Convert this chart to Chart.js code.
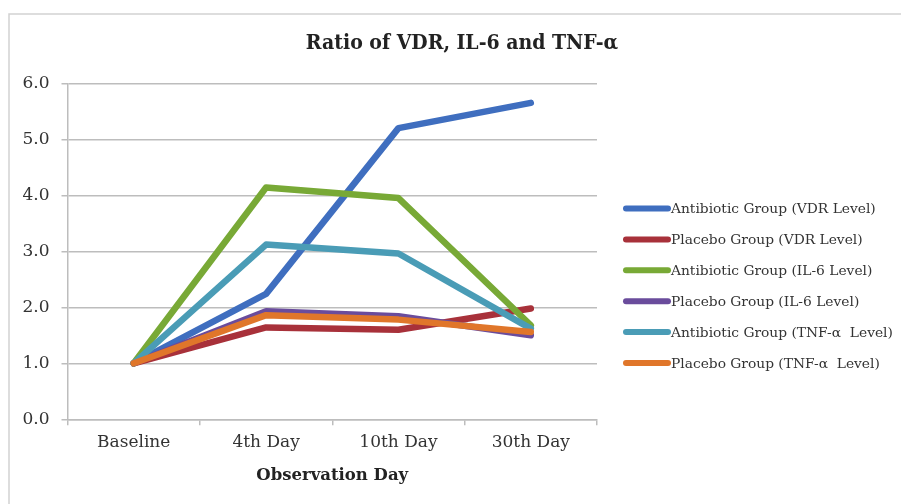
<!DOCTYPE html>
<html>
<head>
<meta charset="utf-8">
<script src="https://cdn.jsdelivr.net/npm/chart.js@4/dist/chart.umd.min.js"></script>
<style>
html,body{margin:0;padding:0;background:#fff;}
#wrap{position:relative;width:901px;height:504px;}
</style>
</head>
<body>
<div id="wrap"><canvas id="c" width="901" height="504"></canvas></div>
<script>
const categories = ["Baseline", "4th Day", "10th Day", "30th Day"];
const seriesNames = [
  "Antibiotic Group (VDR Level)",
  "Placebo Group (VDR Level)",
  "Antibiotic Group (IL-6 Level)",
  "Placebo Group (IL-6 Level)",
  "Antibiotic Group (TNF-\u03B1  Level)",
  "Placebo Group (TNF-\u03B1  Level)"
];
const antibioticVDR = [1.0, 2.24, 5.20, 5.65];
const placeboVDR = [1.0, 1.64, 1.60, 1.98];
const antibioticIL6 = [1.0, 4.14, 3.95, 1.68];
const placeboIL6 = [1.0, 1.93, 1.84, 1.50];
const antibioticTNF = [1.0, 3.12, 2.96, 1.62];
const placeboTNF = [1.0, 1.86, 1.78, 1.56];
const seriesColors = ["#3F6EBF", "#A8313A", "#78A936", "#6A4C9C", "#4A9CB6", "#E0762A"];
const yTicks = [0, 1, 2, 3, 4, 5, 6];
const chartTitle = "Ratio of VDR, IL-6 and TNF-\u03B1";

const seriesValues = [antibioticVDR, placeboVDR, antibioticIL6, placeboIL6, antibioticTNF, placeboTNF];
const SERIF = "'DejaVu Serif', 'Liberation Serif', serif";
const TITLE_FONT = "'DejaVu Serif Condensed', 'DejaVu Serif', serif";
const TXT = "#333333";

const frame = {
  id: 'frame',
  beforeDraw(chart) {
    const ctx = chart.ctx;
    ctx.save();
    ctx.strokeStyle = '#d2d2d2';
    ctx.lineWidth = 1.5;
    ctx.beginPath();
    ctx.moveTo(9, 510);
    ctx.lineTo(9, 14);
    ctx.lineTo(910, 14);
    ctx.stroke();
    ctx.restore();
  }
};

const titleDraw = {
  id: 'titleDraw',
  afterDraw(chart) {
    const ctx = chart.ctx;
    ctx.save();
    ctx.fillStyle = '#222';
    ctx.font = "bold 21px " + TITLE_FONT;
    ctx.textAlign = 'center';
    ctx.textBaseline = 'middle';
    ctx.fillText(chartTitle, 462, 44);
    ctx.restore();
  }
};

const customLegend = {
  id: 'customLegend',
  afterDraw(chart) {
    const ctx = chart.ctx;
    ctx.save();
    const x0 = 626, x1 = 668, y0 = 208.5, dy = 30.9;
    chart.data.datasets.forEach((ds, i) => {
      const y = y0 + i * dy;
      ctx.strokeStyle = ds.borderColor;
      ctx.lineWidth = 6;
      ctx.lineCap = 'round';
      ctx.beginPath();
      ctx.moveTo(x0, y);
      ctx.lineTo(x1, y);
      ctx.stroke();
      ctx.fillStyle = TXT;
      ctx.font = "13.8px " + SERIF;
      ctx.textBaseline = 'middle';
      ctx.textAlign = 'left';
      ctx.fillText(ds.label, x1 + 3, y + 1);
    });
    ctx.restore();
  }
};

new Chart(document.getElementById('c'), {
  type: 'line',
  data: {
    labels: categories,
    datasets: seriesValues.map((vals, i) => ({
      label: seriesNames[i],
      data: vals,
      borderColor: seriesColors[i],
      backgroundColor: seriesColors[i],
      borderWidth: 6.5,
      borderCapStyle: 'round',
      borderJoinStyle: 'round',
      pointRadius: 0,
      tension: 0,
      fill: false,
      order: seriesValues.length - i
    }))
  },
  options: {
    responsive: false,
    animation: false,
    devicePixelRatio: 1,
    layout: { padding: { left: 0, right: 304, top: 83.3, bottom: 0 } },
    plugins: {
      legend: { display: false },
      tooltip: { enabled: false },
      title: { display: false }
    },
    scales: {
      x: {
        type: 'category',
        offset: true,
        grid: { display: true, offset: true, drawOnChartArea: false, drawTicks: true, tickLength: 6, color: '#bdbdbd', lineWidth: 1.5 },
        border: { display: true, color: '#bdbdbd', width: 1.5 },
        ticks: { color: TXT, font: { family: SERIF, size: 17 }, padding: 7, maxRotation: 0 },
        title: { display: true, text: 'Observation Day', color: '#222', font: { family: SERIF, size: 16.5, weight: 'bold', lineHeight: 1.2 }, padding: { top: 18, bottom: 18 } },
        afterFit(scale) { scale.height = 504 - 419.3; }
      },
      y: {
        min: 0, max: 6,
        afterBuildTicks(scale) { scale.ticks = yTicks.map(v => ({ value: v })); },
        grid: { color: '#bdbdbd', lineWidth: 1.5, drawTicks: true, tickLength: 6 },
        border: { display: true, color: '#bdbdbd', width: 1.5 },
        ticks: { color: TXT, font: { family: SERIF, size: 17 }, padding: 12, callback: v => Number(v).toFixed(1) },
        afterFit(scale) { scale.width = 67.5; }
      }
    }
  },
  plugins: [frame, titleDraw, customLegend]
});
</script>
</body>
</html>
